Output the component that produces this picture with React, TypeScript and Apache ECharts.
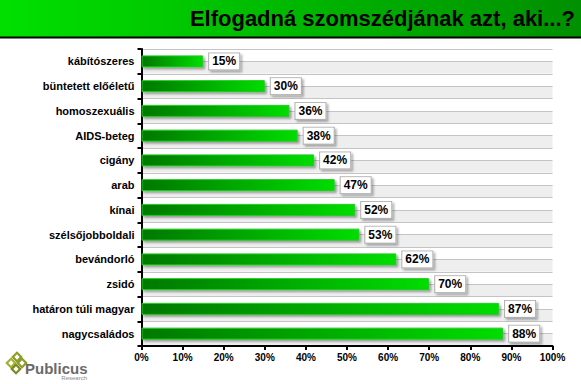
import React, { useEffect, useRef } from "react";
import * as echarts from "echarts";

const categories = [
  "kábítószeres",
  "büntetett előéletű",
  "homoszexuális",
  "AIDS-beteg",
  "cigány",
  "arab",
  "kínai",
  "szélsőjobboldali",
  "bevándorló",
  "zsidó",
  "határon túli magyar",
  "nagycsaládos",
];
const values = [15, 30, 36, 38, 42, 47, 52, 53, 62, 70, 87, 88];
const titleText = "Elfogadná szomszédjának azt, aki...?";
const FONT = "Liberation Sans, Arial, sans-serif";

export default function App() {
  const ref = useRef<HTMLDivElement>(null);
  useEffect(() => {
    if (!ref.current) return;
    const chart = echarts.init(ref.current, null, { renderer: "svg" });
    const halfBands = categories.flatMap((c) => [c + "_a", c + "_b"]);
    const diamond = (x: number, y: number, color: string) => ({
      type: "rect",
      x,
      y,
      rotation: Math.PI / 4,
      shape: { x: -3, y: -3, width: 6, height: 6 },
      style: { fill: "#fff", stroke: color, lineWidth: 2.2 },
    });
    chart.setOption({
      animation: false,
      backgroundColor: "#ffffff",
      grid: { left: 141.5, right: 28.5, top: 49, bottom: 38 },
      xAxis: {
        type: "value",
        min: 0,
        max: 100,
        interval: 10,
        axisLine: { show: true, lineStyle: { color: "#000", width: 2 } },
        axisTick: { show: true, length: 4, lineStyle: { color: "#000", width: 2 } },
        axisLabel: {
          formatter: "{value}%",
          color: "#000",
          fontWeight: "bold",
          fontSize: 10,
          fontFamily: FONT,
          margin: 6,
        },
        splitLine: { show: false },
      },
      yAxis: [
        {
          type: "category",
          data: categories,
          inverse: true,
          axisLine: { show: true, lineStyle: { color: "#000", width: 2 } },
          axisTick: { show: true, length: 4, interval: 0, lineStyle: { color: "#000", width: 2 } },
          axisLabel: {
            interval: 0,
            color: "#000",
            fontWeight: "bold",
            fontSize: 11,
            fontFamily: FONT,
            margin: 7,
          },
          splitLine: { show: false },
          z: 5,
        },
        {
          type: "category",
          data: halfBands,
          inverse: true,
          axisLine: { show: false },
          axisTick: { show: false, interval: 0 },
          axisLabel: { show: false, interval: 0 },
          splitArea: { show: true, interval: 0, areaStyle: { color: ["#ffffff", "#eeeeee"] } },
          splitLine: { show: true, interval: 0, lineStyle: { color: "#c4c4c4", width: 1 } },
        },
      ],
      series: [
        {
          type: "bar",
          yAxisIndex: 0,
          data: values,
          barWidth: 12,
          itemStyle: {
            color: new echarts.graphic.LinearGradient(0, 0, 1, 0, [
              { offset: 0, color: "#007800" },
              { offset: 1, color: "#00dd00" },
            ]),
            borderColor: "#22cc22",
            borderWidth: 1,
            shadowColor: "rgba(0,0,0,0.35)",
            shadowBlur: 2,
            shadowOffsetX: 2,
            shadowOffsetY: 2,
          },
          label: {
            show: true,
            position: "right",
            distance: 6,
            formatter: "{c}%",
            color: "#000",
            fontWeight: "bold",
            fontSize: 12,
            fontFamily: FONT,
            backgroundColor: "#ffffff",
            borderColor: "#b0b0b0",
            borderWidth: 1,
            padding: [2, 3, 2, 3],
            shadowColor: "rgba(0,0,0,0.3)",
            shadowBlur: 2,
            shadowOffsetX: 2,
            shadowOffsetY: 2,
          },
          z: 10,
        },
      ],
      graphic: [
        {
          type: "rect",
          shape: { x: 0, y: 0, width: 581, height: 37 },
          style: {
            fill: new echarts.graphic.LinearGradient(0, 0, 1, 0, [
              { offset: 0, color: "#00e000" },
              { offset: 1, color: "#008f00" },
            ]),
          },
          z: 1,
        },
        {
          type: "line",
          shape: { x1: 0, y1: 37.5, x2: 581, y2: 37.5 },
          style: { stroke: "#000", lineWidth: 2 },
          z: 2,
        },
        {
          type: "text",
          x: 575,
          y: 18,
          style: {
            text: titleText,
            fill: "#000",
            font: "bold 22px " + FONT,
            textAlign: "right",
            textVerticalAlign: "middle",
          },
          z: 3,
        },
        {
          type: "group",
          children: [
            diamond(17, 357, "#8c9c28"),
            diamond(11, 363, "#a4b232"),
            diamond(22, 363, "#8c9c28"),
            diamond(16, 369, "#7a8a20"),
            {
              type: "text",
              x: 25,
              y: 368,
              style: { text: "Publicus", fill: "#6a6a6a", font: "bold 15px " + FONT, textVerticalAlign: "middle" },
            },
            {
              type: "text",
              x: 87,
              y: 378,
              style: { text: "Research", fill: "#8a8a8a", font: "6px " + FONT, textAlign: "right", textVerticalAlign: "middle" },
            },
          ],
        },
      ],
    });
    return () => chart.dispose();
  }, []);
  return (
    <div
      ref={ref}
      style={{ position: "fixed", left: 0, top: 0, width: 581, height: 384 }}
    />
  );
}
